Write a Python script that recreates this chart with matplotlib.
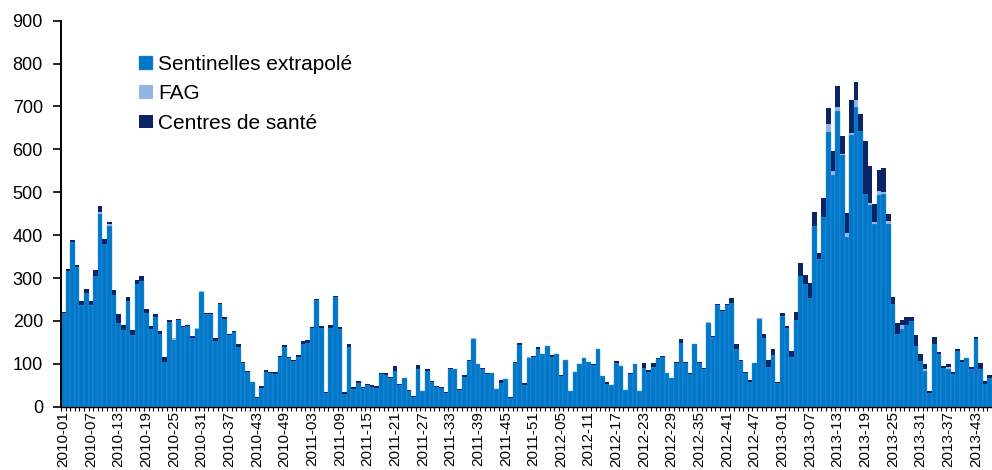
import matplotlib
matplotlib.use("Agg")
import matplotlib.pyplot as plt
import numpy as np

plt.rcParams["font.family"] = ["Liberation Sans", "DejaVu Sans"]

# weeks 2010-01 .. 2013-46
weeks = ([f"2010-{w:02d}" for w in range(1, 53)] + [f"2011-{w:02d}" for w in range(1, 53)]
         + [f"2012-{w:02d}" for w in range(1, 53)] + [f"2013-{w:02d}" for w in range(1, 47)])

sentinelles = [
    219, 317, 385, 325, 238, 264, 238, 305, 450, 380, 422, 260, 196, 179, 247, 166, 285, 293, 218, 182,
    210, 169, 105, 198, 156, 201, 185, 187, 159, 181, 268, 216, 215, 154, 239, 204, 167, 173, 140, 102,
    81, 58, 20, 44, 82, 78, 76, 117, 140, 113, 107, 117, 147, 148, 183, 249, 184, 32, 183, 256,
    181, 30, 140, 41, 55, 44, 51, 47, 43, 77, 74, 66, 84, 51, 66, 37, 23, 88, 36, 84,
    57, 46, 44, 32, 87, 88, 39, 70, 106, 157, 100, 88, 77, 78, 41, 55, 65, 20, 101, 145,
    51, 114, 115, 135, 124, 141, 116, 124, 72, 108, 36, 81, 99, 113, 104, 97, 134, 72, 53, 50,
    103, 95, 39, 77, 99, 37, 91, 82, 93, 111, 117, 79, 66, 101, 148, 101, 76, 146, 102, 89,
    195, 163, 237, 222, 236, 241, 134, 106, 79, 57, 101, 205, 160, 93, 120, 56, 212, 184, 115, 203,
    305, 286, 253, 421, 344, 442, 641, 541, 690, 586, 396, 634, 699, 643, 496, 471, 426, 494, 496, 425,
    239, 169, 182, 190, 200, 141, 106, 84, 33, 146, 122, 90, 87, 77, 129, 105, 113, 89, 157, 89,
    53, 66,
]
fag = [
    0, 0, 0, 0, 0, 0, 0, 0, 5, 0, 5, 0, 0, 0, 0, 0, 2, 0, 0, 0,
    0, 0, 0, 0, 4, 0, 0, 0, 0, 2, 2, 0, 0, 0, 0, 0, 0, 0, 0, 0,
    0, 0, 0, 0, 0, 0, 0, 0, 0, 0, 0, 0, 0, 0, 0, 0, 0, 0, 0, 0,
    0, 0, 0, 0, 0, 0, 0, 0, 0, 0, 0, 0, 0, 0, 0, 0, 0, 0, 0, 0,
    0, 0, 0, 0, 0, 0, 0, 0, 0, 2, 0, 0, 0, 0, 0, 0, 0, 0, 0, 0,
    0, 2, 0, 0, 0, 0, 0, 0, 0, 0, 0, 0, 0, 0, 0, 0, 0, 0, 0, 0,
    0, 0, 0, 0, 0, 0, 0, 0, 0, 0, 0, 0, 0, 0, 0, 0, 0, 0, 0, 0,
    2, 0, 0, 0, 0, 0, 0, 0, 0, 0, 0, 2, 0, 0, 0, 0, 0, 0, 0, 0,
    0, 0, 0, 0, 0, 0, 18, 9, 8, 4, 8, 5, 15, 0, 0, 5, 5, 10, 5, 8,
    0, 0, 8, 0, 0, 0, 0, 3, 0, 0, 0, 0, 6, 0, 0, 0, 0, 0, 0, 0,
    0, 0,
]
centres = [
    2, 3, 4, 6, 9, 10, 9, 14, 13, 12, 3, 12, 19, 12, 9, 13, 8, 12, 10, 6,
    5, 8, 12, 4, 0, 3, 3, 3, 6, 0, 0, 2, 3, 5, 2, 4, 2, 3, 6, 2,
    2, 0, 3, 5, 3, 2, 5, 2, 5, 3, 3, 4, 5, 8, 3, 3, 4, 2, 7, 2,
    5, 4, 6, 5, 4, 2, 3, 3, 5, 2, 4, 3, 10, 2, 2, 2, 3, 9, 0, 3,
    3, 2, 3, 2, 3, 0, 2, 3, 2, 0, 0, 2, 2, 0, 0, 8, 0, 3, 3, 3,
    5, 0, 3, 4, 0, 0, 4, 0, 3, 0, 0, 0, 0, 0, 0, 2, 0, 0, 5, 0,
    3, 0, 0, 2, 0, 0, 10, 3, 8, 3, 2, 0, 2, 3, 9, 3, 3, 0, 2, 2,
    0, 2, 2, 3, 3, 12, 12, 2, 3, 5, 2, 0, 9, 17, 15, 2, 6, 4, 15, 18,
    31, 21, 35, 32, 15, 45, 37, 46, 50, 40, 47, 75, 43, 40, 124, 86, 41, 48, 56, 16,
    17, 26, 12, 20, 8, 25, 18, 12, 4, 16, 5, 5, 6, 5, 6, 5, 0, 4, 5, 12,
    8, 8,
]

c_sent = "#0077C8"
c_fag = "#92B6E4"
c_cent = "#0B2466"

fig = plt.figure(figsize=(9.92, 4.70), dpi=100)
ax = fig.add_axes([0.0615, 0.1347, 0.9385, 0.8213])

x = np.arange(len(weeks))
s = np.array(sentinelles)
f = np.array(fag)
c = np.array(centres)

ax.bar(x, s, width=1.0, color=c_sent, edgecolor="#3d97d8", linewidth=0.3, label="Sentinelles extrapolé")
ax.bar(x, f, width=1.0, bottom=s, color=c_fag, linewidth=0, label="FAG")
ax.bar(x, c, width=1.0, bottom=s + f, color=c_cent, linewidth=0, label="Centres de santé")

ax.set_ylim(0, 900)
ax.set_xlim(-0.5, 200.7)
ax.set_yticks(range(0, 901, 100))
ax.tick_params(axis="y", labelsize=13, length=6, width=1.2, pad=7)

ax.set_xticks(x[::6])
ax.set_xticklabels(weeks[::6], rotation=90, fontsize=11)
ax.set_xticks(np.arange(-0.5, len(weeks), 1.0), minor=True)
ax.tick_params(axis="x", which="major", length=0, pad=3)
ax.tick_params(axis="x", which="minor", length=3, width=0.8)

for side in ["top", "right"]:
    ax.spines[side].set_visible(False)
ax.spines["left"].set_linewidth(1.4)
ax.spines["bottom"].set_linewidth(1.0)

ax.legend(loc="upper left", bbox_to_anchor=(139 / 992, 1 - 55 / 470), bbox_transform=fig.transFigure,
          frameon=False, fontsize=15, handlelength=0.65, handleheight=0.65, handletextpad=0.25,
          labelspacing=0.5, borderpad=0, borderaxespad=0)

fig.savefig("out.png", dpi=100)
